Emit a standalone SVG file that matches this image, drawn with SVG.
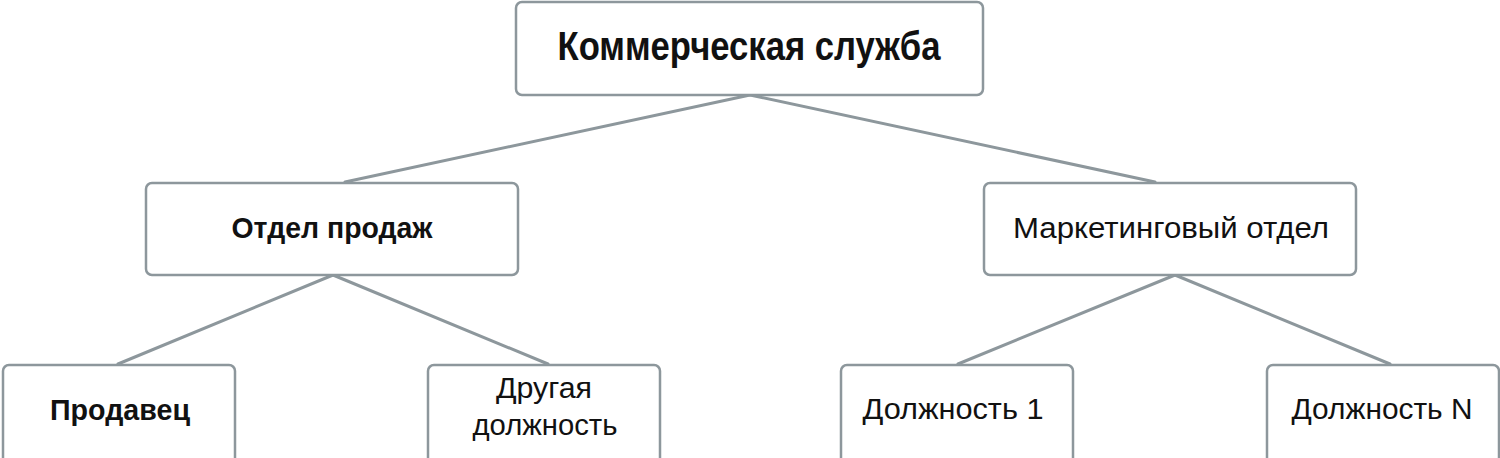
<svg xmlns="http://www.w3.org/2000/svg" width="1500" height="458" viewBox="0 0 1500 458">
<style>
.box{fill:#ffffff;stroke:#8d979c;stroke-width:2.5}
.conn line{stroke:#8d979c;stroke-width:3;stroke-linecap:round}
text{font-family:"Liberation Sans","Noto Sans",sans-serif;fill:#111111;text-anchor:middle;dominant-baseline:central}
.big{font-size:40px;font-weight:bold}
.mid{font-size:30px}
.midb{font-size:30px;font-weight:bold}
.sm{font-size:29px}
</style>
<rect width="1500" height="458" fill="#ffffff"/>
<g id="connectors" class="conn">
<line x1="750" y1="95" x2="345" y2="182"/>
<line x1="750" y1="95" x2="1155" y2="182"/>
<line x1="333" y1="275" x2="118" y2="364"/>
<line x1="333" y1="275" x2="548" y2="364"/>
<line x1="1175" y1="275" x2="958" y2="364"/>
<line x1="1175" y1="275" x2="1390" y2="364"/>
</g>
<g id="node-commercial">
<rect class="box" x="516" y="2" width="467" height="93" rx="6"/>
<text class="big" x="749" y="46" textLength="383" lengthAdjust="spacingAndGlyphs">Коммерческая служба</text>
</g>
<g id="node-sales">
<rect class="box" x="146" y="183" width="372" height="92" rx="6"/>
<text class="midb" x="332" y="227" textLength="201" lengthAdjust="spacingAndGlyphs">Отдел продаж</text>
</g>
<g id="node-marketing">
<rect class="box" x="984" y="183" width="372" height="92" rx="6"/>
<text class="mid" x="1171" y="227" textLength="316" lengthAdjust="spacingAndGlyphs">Маркетинговый отдел</text>
</g>
<g id="node-seller">
<rect class="box" x="3" y="365" width="232" height="100" rx="6"/>
<text class="midb" x="120" y="409" textLength="140" lengthAdjust="spacingAndGlyphs">Продавец</text>
</g>
<g id="node-other">
<rect class="box" x="428" y="365" width="232" height="100" rx="6"/>
<text class="sm" x="544" y="388" textLength="96" lengthAdjust="spacingAndGlyphs">Другая</text>
<text class="sm" x="545" y="425" textLength="145" lengthAdjust="spacingAndGlyphs">должность</text>
</g>
<g id="node-pos1">
<rect class="box" x="841" y="365" width="232" height="100" rx="6"/>
<text class="sm" x="953" y="409" textLength="181" lengthAdjust="spacingAndGlyphs">Должность 1</text>
</g>
<g id="node-posN">
<rect class="box" x="1267" y="365" width="232" height="100" rx="6"/>
<text class="sm" x="1382" y="409" textLength="181" lengthAdjust="spacingAndGlyphs">Должность N</text>
</g>
</svg>
